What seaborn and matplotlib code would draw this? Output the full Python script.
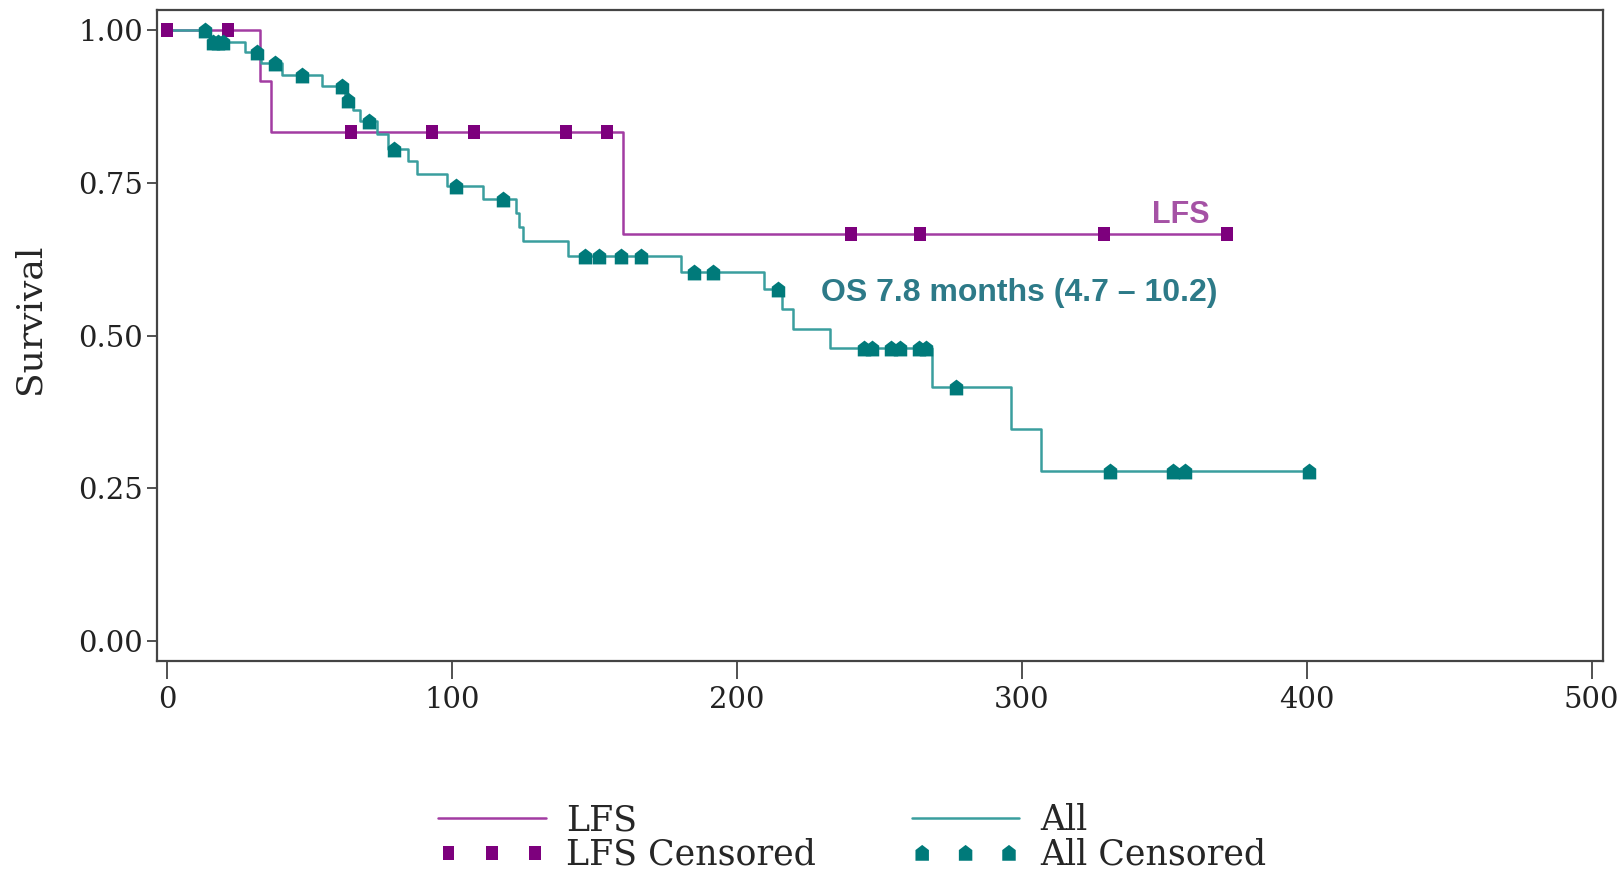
#!/usr/bin/env python3
"""Kaplan-Meier style survival curves: LFS vs All (OS)."""

import matplotlib

matplotlib.use("Agg")
import matplotlib.pyplot as plt
import numpy as np
import seaborn as sns
from matplotlib.path import Path

sns.set_theme(style="white")
plt.rcParams["font.family"] = ["DejaVu Serif"]

DPI = 100
TICK_SIZE = 21
LABEL_SIZE = 26
LEGEND_SIZE = 25
NOTE_SIZE = 22

LFS_LINE = "#a23ca2"
LFS_MARK = "#7d007d"
ALL_LINE = "#3a9e9e"
ALL_MARK = "#007a7a"

# LFS: event times (days) and survival just after each event
lfs_event_t = [32.7, 36.4, 160.0]
lfs_event_s = [0.917, 0.833, 0.667]
lfs_cens_t = [0.0, 21.3, 64.6, 92.9, 107.6, 140.0, 154.4, 240.0, 264.2, 328.8, 372.1]
lfs_end = 372.1

# All patients (OS)
all_event_t = [15.0, 27.5, 33.0, 40.5, 54.3, 62.5, 65.3, 67.8, 73.7, 77.6, 84.7, 87.7,
               98.2, 111.0, 122.4, 123.6, 124.9, 140.6, 180.5, 209.5, 215.8, 219.8,
               232.8, 268.5, 296.3, 306.9]
all_event_s = [0.981, 0.965, 0.947, 0.926, 0.909, 0.886, 0.869, 0.852, 0.830, 0.806,
               0.785, 0.764, 0.744, 0.723, 0.700, 0.677, 0.654, 0.631, 0.604, 0.576,
               0.544, 0.511, 0.479, 0.415, 0.347, 0.278]
all_cens_t = [13.3, 16.3, 18.0, 19.6, 31.6, 38.0, 47.3, 61.3, 63.5, 71.0, 79.5, 101.5,
              118.1, 146.8, 151.5, 159.4, 166.4, 184.8, 191.6, 214.3, 244.6, 247.4,
              254.0, 257.2, 263.8, 266.4, 277.0, 331.1, 353.1, 357.4, 400.8]
all_end = 400.8

x_ticks = [0, 100, 200, 300, 400, 500]
y_ticks = [0.0, 0.25, 0.50, 0.75, 1.00]


def step_curve(event_t, event_s, end):
    x = np.array([0.0] + list(event_t) + [end])
    y = np.array([1.0] + list(event_s) + [event_s[-1]])
    return x, y


def surv_at(t, event_t, event_s):
    idx = np.searchsorted(event_t, t, side="right")
    s = np.concatenate([[1.0], event_s])
    return s[idx]


# marker shapes: tall square and a "house" (square with a pointed top)
tall_square = Path([(-0.8, -1), (0.8, -1), (0.8, 1), (-0.8, 1), (-0.8, -1)],
                   [Path.MOVETO, Path.LINETO, Path.LINETO, Path.LINETO, Path.CLOSEPOLY])
house = Path([(-0.85, -1), (0.85, -1), (0.85, 0.35), (0, 1), (-0.85, 0.35), (-0.85, -1)],
             [Path.MOVETO, Path.LINETO, Path.LINETO, Path.LINETO, Path.LINETO, Path.CLOSEPOLY])

fig = plt.figure(figsize=(16.22, 8.76), dpi=DPI)
ax = fig.add_axes([0.0968, 0.2454, 0.8915, 0.7432])

lx, ly = step_curve(lfs_event_t, lfs_event_s, lfs_end)
axx, axy = step_curve(all_event_t, all_event_s, all_end)

sns.lineplot(x=lx, y=ly, drawstyle="steps-post", color=LFS_LINE, linewidth=1.8,
             estimator=None, sort=False, label="LFS", ax=ax)
sns.lineplot(x=axx, y=axy, drawstyle="steps-post", color=ALL_LINE, linewidth=1.8,
             estimator=None, sort=False, label="All", ax=ax)

lfs_cy = surv_at(np.array(lfs_cens_t), np.array(lfs_event_t), np.array(lfs_event_s))
all_cy = surv_at(np.array(all_cens_t), np.array(all_event_t), np.array(all_event_s))

sns.scatterplot(x=lfs_cens_t, y=lfs_cy, marker=tall_square, s=110, color=LFS_MARK,
                linewidth=0, label="LFS Censored", zorder=4, ax=ax)
sns.scatterplot(x=all_cens_t, y=all_cy, marker=house, s=130, color=ALL_MARK,
                linewidth=0, label="All Censored", zorder=4, ax=ax)

ax.text(366, 0.697, "LFS", color="#a552a5", fontsize=NOTE_SIZE, fontweight="bold",
        family="Liberation Sans", ha="right", va="center")
ax.text(229.5, 0.570, "OS 7.8 months (4.7 \u2013 10.2)", color="#2d7a88",
        fontsize=NOTE_SIZE + 1, fontweight="bold", family="Liberation Sans",
        ha="left", va="center")

ax.set_xlim(-3.5, 504)
ax.set_ylim(-0.033, 1.033)
ax.set_xticks(x_ticks)
ax.set_yticks(y_ticks)
ax.set_yticklabels([f"{v:.2f}" for v in y_ticks])
ax.set_xlabel("")
ax.set_ylabel("Survival", fontsize=LABEL_SIZE, va="center")
ax.yaxis.set_label_coords(-0.088, 0.525)
ax.tick_params(axis="x", direction="out", length=13, width=1.2, colors="#333333",
               labelsize=TICK_SIZE, pad=5, bottom=True)
ax.tick_params(axis="y", direction="out", length=7, width=1.2, colors="#333333",
               labelsize=TICK_SIZE, pad=3, left=True)
for lbl in ax.get_xticklabels() + ax.get_yticklabels():
    lbl.set_color("#222222")
for sp in ax.spines.values():
    sp.set_visible(True)
    sp.set_color("#444444")
    sp.set_linewidth(1.6)
ax.grid(False)

handles, labels = ax.get_legend_handles_labels()
order = ["LFS", "LFS Censored", "All", "All Censored"]
hmap = dict(zip(labels, handles))
ax.get_legend().remove()
fig.legend([hmap[k] for k in order], order, loc="upper left",
           bbox_to_anchor=(0.270, 0.083), ncol=2, frameon=False,
           fontsize=LEGEND_SIZE, handlelength=3.1, handletextpad=0.6,
           columnspacing=2.75, labelspacing=0.02, scatterpoints=3,
           scatteryoffsets=[0.5], borderpad=0, borderaxespad=0)

fig.savefig("out.png", dpi=DPI)
plt.close(fig)
